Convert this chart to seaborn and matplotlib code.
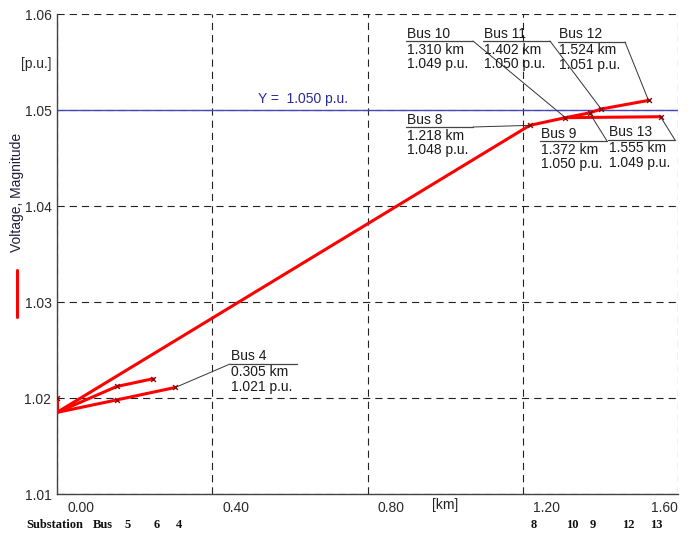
import matplotlib
matplotlib.use("Agg")
import matplotlib.pyplot as plt
import matplotlib.transforms as mtransforms
from matplotlib.lines import Line2D
from matplotlib.ticker import FixedLocator, FixedFormatter
import seaborn as sns

# Feeder sections: distance from substation [km] and voltage magnitude [p.u.]
main_km = [0.000, 1.218, 1.310, 1.372, 1.402, 1.524]
main_pu = [1.0185, 1.0484, 1.0492, 1.0497, 1.0501, 1.0510]
lat13_km = [1.310, 1.555]
lat13_pu = [1.0492, 1.0493]
lat6_km = [0.000, 0.154, 0.247]
lat6_pu = [1.0185, 1.0212, 1.0220]
lat4_km = [0.000, 0.154, 0.305]
lat4_pu = [1.0185, 1.0198, 1.0211]
sub_km = [0.000, 0.000]
sub_pu = [1.0200, 1.0185]

limit_pu = 1.050

# Annotated buses
ann_bus = ["Bus 10", "Bus 11", "Bus 12", "Bus 8", "Bus 9", "Bus 13", "Bus 4"]
ann_km = [1.310, 1.402, 1.524, 1.218, 1.372, 1.555, 0.305]
ann_pu = [1.0492, 1.0501, 1.0510, 1.0484, 1.0497, 1.0493, 1.0211]

# Axis ticks
x_ticks = [0.0, 0.4, 0.8, 1.2, 1.6]
x_minor = [0.2, 0.6, 1.0, 1.4]
y_ticks = [1.01, 1.02, 1.03, 1.04, 1.05, 1.06]
y_minor = [1.015, 1.025, 1.035, 1.045, 1.055]
y_minor_labels = ["", "", "", "", "[p.u.]"]

# Bus numbers printed under the distance axis
axis_bus_text = ["Substation", "Bus", "5", "6", "4", "8", "10", "9", "12", "13"]

# ---- layout (figure pixels, origin top-left) ----
W, H = 696, 535
ann_box = [(406, 41, "right"), (483, 41, "right"), (558, 42, "right"),
           (406, 127, "right"), (540, 141, "right"), (608, 140, "right"),
           (230, 364, "left")]
ann_underline = 67
axis_bus_px = [55, 103, 128, 157, 179, 534, 572, 593, 628, 656]


def px(x, y):
    return (x / W, 1 - y / H)


sns.set_style("white")
plt.rcParams["font.family"] = ["Liberation Sans", "DejaVu Sans"]
plt.rcParams["text.color"] = "#1a1a1a"

fig = plt.figure(figsize=(W / 100, H / 100), dpi=100)
ax = fig.add_axes([57 / W, 1 - 494 / H, 621 / W, 480 / H])

red = "#ff0000"
for km, pu in [(main_km, main_pu), (lat13_km, lat13_pu), (lat6_km, lat6_pu),
               (lat4_km, lat4_pu), (sub_km, sub_pu)]:
    sns.lineplot(x=km, y=pu, ax=ax, color=red, lw=2.2, sort=False,
                 estimator=None, legend=False, zorder=3)

# bus markers
mk_x = main_km[1:] + lat13_km[1:] + lat6_km[1:] + lat4_km[1:] + sub_km[:1]
mk_y = main_pu[1:] + lat13_pu[1:] + lat6_pu[1:] + lat4_pu[1:] + sub_pu[:1]
sns.scatterplot(x=mk_x, y=mk_y, ax=ax, marker="x", s=12, color="#a00000",
                linewidth=1.0, zorder=4, legend=False)

# voltage limit line
ax.axhline(limit_pu, color="#4848b8", lw=1.0, zorder=2)
fig.text(*px(258, 99), f"Y =  {limit_pu:.3f} p.u.", color="#2a2a9a",
         fontsize=10, ha="left", va="center")

ax.set_xlim(x_ticks[0], x_ticks[-1])
ax.set_ylim(y_ticks[0], y_ticks[-1])
ax.set_xticks(x_ticks)
ax.set_xticklabels([f"{v:.2f}" for v in x_ticks])
ax.xaxis.set_minor_locator(FixedLocator(x_minor))
ax.set_yticks(y_ticks)
ax.set_yticklabels([f"{v:.2f}" for v in y_ticks])
ax.yaxis.set_minor_locator(FixedLocator(y_minor))
ax.yaxis.set_minor_formatter(FixedFormatter(y_minor_labels))

ax.tick_params(which="both", direction="in", length=4, width=0.8,
               color="#444444", labelsize=10, labelcolor="#2a2a2a")
ax.tick_params(axis="y", which="both", pad=4)
ax.tick_params(axis="x", which="major", pad=5)

ax.grid(True, which="major", color="#222222", lw=0.8,
        linestyle=(0, (6.5, 4.5)), zorder=1)
ax.set_axisbelow(True)
for s in ("top", "right"):
    ax.spines[s].set_visible(False)
for s in ("left", "bottom"):
    ax.spines[s].set_color("#444444")
    ax.spines[s].set_linewidth(1.0)

# distance labels sit to the right of their gridline, last one right-aligned
shift = mtransforms.ScaledTranslation(10 / 100, 0, fig.dpi_scale_trans)
xlabels = ax.get_xticklabels()
for lab in xlabels[:-1]:
    lab.set_ha("left")
    lab.set_transform(lab.get_transform() + shift)
xlabels[-1].set_ha("right")

fig.text(*px(445, 505), "[km]", fontsize=10, ha="center", va="center",
         color="#222222")

# y axis caption with line swatch
fig.text(*px(17, 192), "Voltage, Magnitude", rotation=90, fontsize=10,
         ha="center", va="center", color="#1f1f3a")
fig.add_artist(Line2D([17 / W, 17 / W], [1 - 270 / H, 1 - 317 / H],
                      color=red, lw=2.2))

# bus numbers along the distance axis
for s, x in zip(axis_bus_text, axis_bus_px):
    fig.text(*px(x, 525), s, fontsize=9, fontweight="bold",
             family="Liberation Serif", ha="center", va="center",
             color="#111111")

# bus callouts
for name, km, pu, (x0, u, side) in zip(ann_bus, ann_km, ann_pu, ann_box):
    fig.add_artist(Line2D([x0 / W, (x0 + ann_underline) / W],
                          [1 - u / H, 1 - u / H], color="#444444", lw=0.9))
    fig.text(*px(x0 + 1, u - 3.5), name, fontsize=10, va="baseline")
    fig.text(*px(x0 + 1, u + 12.5), f"{km:.3f} km", fontsize=10,
             va="baseline")
    fig.text(*px(x0 + 1, u + 27), f"{pu:.3f} p.u.", fontsize=10,
             va="baseline")
    xe = x0 + ann_underline if side == "right" else x0
    ax.annotate("", xy=(km, pu), xycoords="data", xytext=px(xe, u),
                textcoords="figure fraction",
                arrowprops=dict(arrowstyle="-", color="#333333", lw=0.7,
                                shrinkA=0, shrinkB=0), zorder=5)

fig.savefig("out.png", dpi=100)
